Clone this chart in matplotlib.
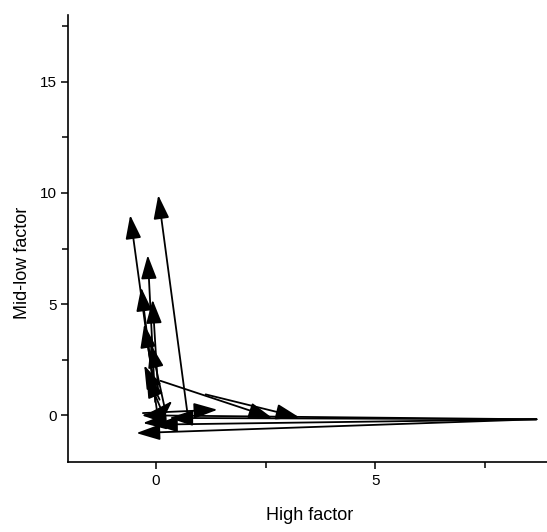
import matplotlib.pyplot as plt
from matplotlib.ticker import MultipleLocator

plt.rcParams["font.family"] = ["Liberation Sans", "DejaVu Sans"]

# factor shift vectors: start point (tail) -> end point (head)
x_start = [0.02, 0.72, -0.02, -0.05, 0.05, 0.00, 0.08, 1.13, 0.10, -0.30,
           8.67, 8.67, 8.67, 8.67, 0.00, 0.15, 0.20, 0.10]
y_start = [0.20, 0.02, 0.60, 1.20, 1.00, 0.90, 0.70, 0.94, 1.55, 0.10,
           -0.18, -0.18, -0.18, -0.18, -0.10, 0.10, 0.30, -0.30]
x_end = [-0.59, 0.05, -0.19, -0.34, -0.08, -0.27, -0.27, 3.27, 2.65, 1.40,
         -0.45, -0.33, -0.05, 0.30, 0.37, -0.22, -0.12, -0.30]
y_end = [9.00, 9.90, 7.20, 5.75, 5.20, 4.10, 2.25, -0.10, -0.12, 0.25,
         -0.80, 0.00, -0.42, -0.12, 0.65, 1.85, 3.20, -0.35]

fig = plt.figure(figsize=(5.47, 5.32), dpi=100)
ax = fig.add_axes([0.1249, 0.1316, 0.8823, 0.8402])

for x0, y0, x1, y1 in zip(x_start, y_start, x_end, y_end):
    ax.annotate(
        "", xy=(x1, y1), xytext=(x0, y0),
        arrowprops=dict(arrowstyle="-|>,head_length=14.5,head_width=4.8",
                        mutation_scale=1, lw=1.3, color="black",
                        shrinkA=0, shrinkB=0),
    )

ax.set_xlim(-2, 9)
ax.set_ylim(-2.1, 18)
ax.xaxis.set_major_locator(MultipleLocator(5))
ax.xaxis.set_minor_locator(MultipleLocator(2.5))
ax.yaxis.set_major_locator(MultipleLocator(5))
ax.yaxis.set_minor_locator(MultipleLocator(2.5))
ax.tick_params(which="both", direction="out", width=1.1, labelsize=11)
ax.tick_params(which="major", length=5)
ax.tick_params(which="minor", length=4)

for side in ("top", "right"):
    ax.spines[side].set_visible(False)
for side in ("left", "bottom"):
    ax.spines[side].set_linewidth(1.2)

ax.set_xlabel("High factor", fontsize=13)
ax.set_ylabel("Mid-low factor", fontsize=13)
ax.xaxis.set_label_coords(0.5, -0.1)
ax.yaxis.set_label_coords(-0.078, 0.445)

fig.savefig("out.png", dpi=100)
